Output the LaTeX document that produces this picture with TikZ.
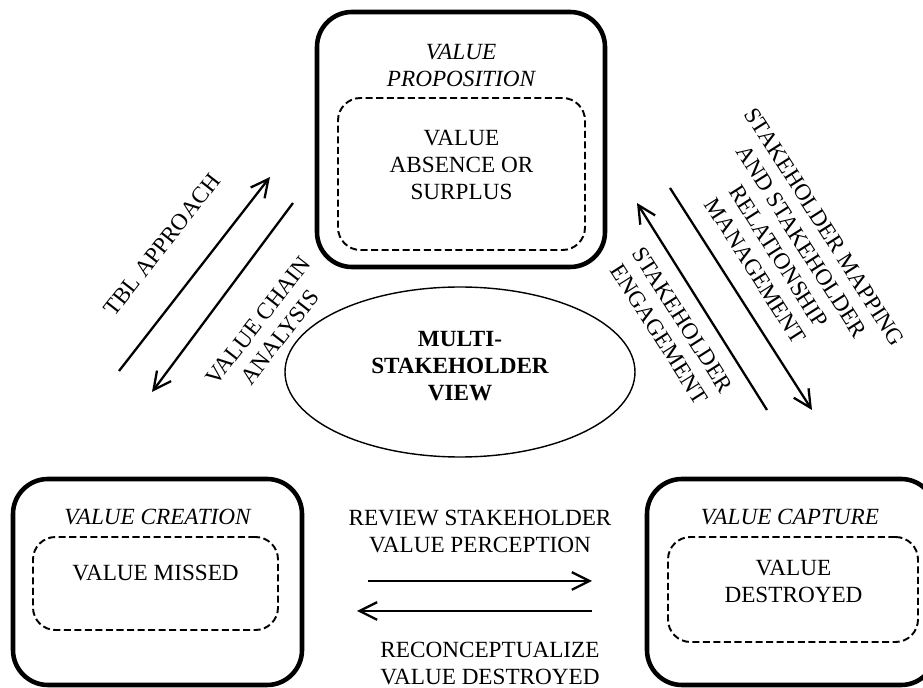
\documentclass[tikz,border=0pt]{standalone}
\usepackage{fontspec}
\setmainfont{Liberation Serif}
\usetikzlibrary{arrows.meta,shapes.geometric}

\tikzset{
  outerbox/.style={draw, line width=2.6pt, rounded corners=0.7cm, inner sep=0pt},
  innerbox/.style={draw, line width=1.1pt, dash pattern=on 4pt off 2pt, rounded corners=0.45cm, inner sep=0pt},
  lbl/.style={align=center, inner sep=0pt, font=\fontsize{13.2}{15.6}\selectfont},
  flow/.style={line width=1.3pt, -{Straight Barb[length=10pt,width=10pt]}}
}

\begin{document}
\begin{tikzpicture}
        \useasboundingbox (0,0) rectangle (18.46,13.76);
        \clip (0,0) rectangle (18.46,13.76);
        % boxes
        \node[outerbox, minimum width=5.76cm, minimum height=5.10cm] (propbox) at (9.22,10.97) {};
        \node[innerbox, minimum width=4.94cm, minimum height=3.04cm] (propin) at (9.23,10.28) {};
        \node[outerbox, minimum width=5.78cm, minimum height=4.12cm] (creabox) at (3.15,2.12) {};
        \node[innerbox, minimum width=4.90cm, minimum height=1.86cm] (creain) at (3.11,2.09) {};
        \node[outerbox, minimum width=5.78cm, minimum height=4.12cm] (captbox) at (15.83,2.12) {};
        \node[innerbox, minimum width=5.00cm, minimum height=2.10cm] (captin) at (15.86,1.97) {};
        \node[draw, ellipse, line width=0.8pt, minimum width=7.0cm, minimum height=3.4cm] (view) at (9.20,6.32) {};

        \node[lbl, font=\fontsize{13.2}{15.6}\selectfont\itshape] (proptitle) at (9.22,12.45) {VALUE\\PROPOSITION};
        \node[lbl] (proptext) at (9.23,10.46) {VALUE\\ABSENCE OR\\SURPLUS};
        \node[lbl, font=\fontsize{13.2}{15.6}\selectfont\itshape] (creatitle) at (3.15,3.42) {VALUE CREATION};
        \node[lbl] (creatext) at (3.11,2.30) {VALUE MISSED};
        \node[lbl, font=\fontsize{13.2}{15.6}\selectfont\itshape] (capttitle) at (15.80,3.42) {VALUE CAPTURE};
        \node[lbl] (capttext) at (15.87,2.13) {VALUE\\DESTROYED};
        \node[lbl, font=\fontsize{13.2}{15.6}\selectfont\bfseries] (viewtext) at (9.20,6.44) {MULTI-\\STAKEHOLDER\\VIEW};

        % arrows
        \coordinate (tblA) at (2.38,6.34);
        \coordinate (tblB) at (5.40,10.22);
        \coordinate (vcaA) at (5.86,9.70);
        \coordinate (vcaB) at (3.04,5.92);
        \coordinate (engA) at (15.34,5.56);
        \coordinate (engB) at (12.74,9.70);
        \coordinate (mapA) at (13.40,10.00);
        \coordinate (mapB) at (16.24,5.56);
        \coordinate (revA) at (7.36,2.14);
        \coordinate (revB) at (11.84,2.14);
        \coordinate (recA) at (11.84,1.54);
        \coordinate (recB) at (7.14,1.54);
        \draw[flow] (tblA) -- (tblB);
        \draw[flow] (vcaA) -- (vcaB);
        \draw[flow] (engA) -- (engB);
        \draw[flow] (mapA) -- (mapB);
        \draw[flow] (revA) -- (revB);
        \draw[flow] (recA) -- (recB);

        \node[lbl, rotate=52] (tbl) at (3.24,8.86) {TBL APPROACH};
        \node[lbl, rotate=52] (vca) at (5.38,7.18) {VALUE CHAIN\\ANALYSIS};
        \node[lbl, rotate=-57.5] (map) at (15.80,8.78) {STAKEHOLDER MAPPING\\AND STAKEHOLDER\\RELATIONSHIP\\MANAGEMENT};
        \node[lbl, rotate=-57.5] (eng) at (13.42,7.22) {STAKEHOLDER\\ENGAGEMENT};
        \node[lbl] (rev) at (9.60,3.13) {REVIEW STAKEHOLDER\\VALUE PERCEPTION};
        \node[lbl] (rec) at (9.80,0.49) {RECONCEPTUALIZE\\VALUE DESTROYED};
    \end{tikzpicture}
\end{document}
